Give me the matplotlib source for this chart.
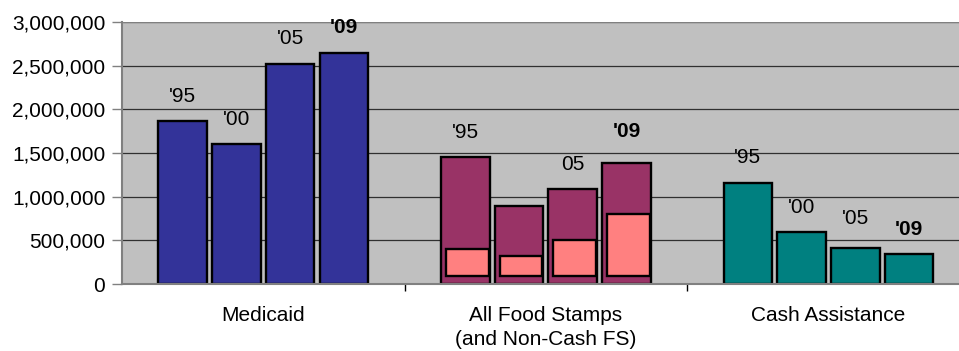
import numpy as np
import matplotlib
matplotlib.use("Agg")
from matplotlib import pyplot as plt
from matplotlib.ticker import FuncFormatter, FixedLocator

plt.rcParams['font.family'] = ['Liberation Sans', 'DejaVu Sans']

programs = ["Medicaid", "All Food Stamps\n(and Non-Cash FS)", "Cash Assistance"]
years = ["'95", "'00", "'05", "'09"]

medicaid = [1861000, 1603000, 2522000, 2649000]
food_stamps = [1451000, 897000, 1084000, 1389000]
non_cash_fs = [404000, 324000, 508000, 805000]
cash = [1160000, 595000, 416000, 340000]

# year tags written over each bar ('' = no tag)
medicaid_tags = ["'95", "'00", "'05", "'09"]
fs_tags = ["'95", "", "05", "'09"]
cash_tags = ["'95", "'00", "'05", "'09"]

fig = plt.figure(figsize=(9.59, 3.51), dpi=100)
ax = fig.add_axes([122/959, 67/351, 1 - 122/959, 262/351])
ax.set_facecolor('#C0C0C0')

pitch = 0.19
width = 0.172
offsets = (np.arange(4) - 1.5) * pitch
pink_base = 95000

groups = [(medicaid, '#333399', medicaid_tags),
          (food_stamps, '#993366', fs_tags),
          (cash, '#008080', cash_tags)]

for gi, (vals, col, tags) in enumerate(groups):
    xs = gi + offsets
    ax.bar(xs, vals, width=width, color=col, edgecolor='black', linewidth=1.7, zorder=3)
    for j, (x, v, t) in enumerate(zip(xs, vals, tags)):
        if not t:
            continue
        bold = t == "'09"
        lift = 25
        if gi == 1 and j == 3:
            lift = 31
        if gi == 2 and j == 2:
            lift = 29
        ax.annotate(t, (x, v), xytext=(0, lift), textcoords='offset pixels',
                    ha='center', va='center', fontsize=15,
                    fontweight='bold' if bold else 'normal', zorder=4)

# non-cash food stamp share drawn inside the food stamp bars
fs_x = 1 + offsets
ax.bar(fs_x + 0.007, np.array(non_cash_fs) - pink_base, bottom=pink_base,
       width=width - 0.022, color='#FF8080', edgecolor='black', linewidth=1.7, zorder=3.5)

ax.set_ylim(0, 3000000)
ax.set_xlim(-0.5, 2.462)
ax.yaxis.set_major_locator(FixedLocator(np.arange(0, 3000001, 500000)))
ax.yaxis.set_major_formatter(FuncFormatter(lambda v, p: f"{int(v):,}"))
ax.grid(axis='y', color='#303030', linewidth=0.9, zorder=1)
ax.set_axisbelow(True)
# plot area border along the top
ax.axhline(3000000, color='#808080', linewidth=1.5, zorder=2)

ax.set_xticks([0, 1, 2])
ax.set_xticklabels(programs, fontsize=15, linespacing=1.3)
ax.set_xticks([0.5, 1.5], minor=True)
ax.tick_params(axis='x', which='major', length=0, pad=16)
ax.tick_params(axis='x', which='minor', length=5, color='black', width=1)
ax.tick_params(axis='y', length=7, color='#808080', width=1, labelsize=15, pad=5)

for side in ['top', 'right']:
    ax.spines[side].set_visible(False)
ax.spines['left'].set_color('#808080')
ax.spines['left'].set_linewidth(1.5)
ax.spines['bottom'].set_color('#808080')
ax.spines['bottom'].set_linewidth(1.5)
ax.spines['bottom'].set_zorder(5)

fig.savefig('out.png', dpi=100)
